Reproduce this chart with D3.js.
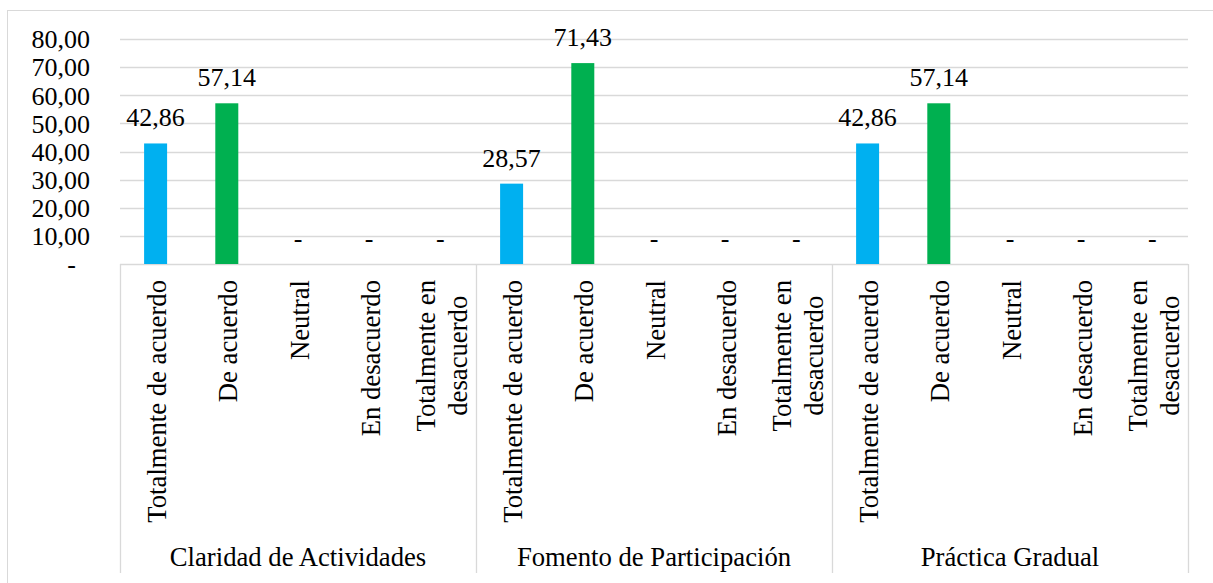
<!DOCTYPE html>
<html>
<head>
<meta charset="utf-8">
<script src="https://cdnjs.cloudflare.com/ajax/libs/d3/7.8.5/d3.min.js"></script>
<style>
  body { margin: 0; background: #fff; }
  svg text { font-family: "Liberation Serif", "Times New Roman", serif; fill: #000; }
</style>
</head>
<body>
<svg id="chart" width="1213" height="583"></svg>
<script>
// chart data
var groups = ["Claridad de Actividades", "Fomento de Participación", "Práctica Gradual"];
var responses = ["Totalmente de acuerdo", "De acuerdo", "Neutral", "En desacuerdo", "Totalmente en desacuerdo"];
var claridad = [42.86, 57.14, 0, 0, 0];
var fomento = [28.57, 71.43, 0, 0, 0];
var practica = [42.86, 57.14, 0, 0, 0];
var yTicks = [0, 10, 20, 30, 40, 50, 60, 70, 80];

var seriesByGroup = [claridad, fomento, practica];
var barColor = d3.scaleOrdinal().domain(responses)
  .range(["#00B0F0", "#00B050", "#A5A5A5", "#FFC000", "#4472C4"]);

var svg = d3.select("#chart");
var plotLeft = 120, plotRight = 1188, plotTop = 39, plotBottom = 264;
var fontSize = 26, catFontSize = 26.7;

// chart border
svg.append("rect")
  .attr("x", 7.5).attr("y", 10.5)
  .attr("width", 1220).attr("height", 600)
  .attr("fill", "none")
  .attr("stroke", "#d9d9d9");

var y = d3.scaleLinear().domain([0, 80]).range([plotBottom, plotTop]);

var xGroup = d3.scaleBand().domain(groups).range([plotLeft, plotRight]);
var xResp = d3.scaleBand().domain(responses).range([0, xGroup.bandwidth()]);
var barW = xResp.bandwidth() * 0.323;

function fmt(v) {
  return v === 0 ? "-" : d3.format(".2f")(v).replace(".", ",");
}

// gridlines
svg.append("g").selectAll("line").data(yTicks.filter(function(d) { return d > 0; }))
  .enter().append("line")
  .attr("x1", plotLeft).attr("x2", plotRight)
  .attr("y1", function(d) { return Math.round(y(d)) + 0.5; })
  .attr("y2", function(d) { return Math.round(y(d)) + 0.5; })
  .attr("stroke", "#d9d9d9")
  .attr("stroke-width", 1.3);

// y axis labels
var yAxis = d3.axisLeft(y).tickValues(yTicks).tickSize(0).tickPadding(30).tickFormat(fmt);
var yg = svg.append("g").attr("transform", "translate(" + plotLeft + ",0)").call(yAxis);
yg.select(".domain").remove();
yg.attr("font-family", null);
yg.selectAll("text")
  .style("font-family", "Liberation Serif")
  .style("font-size", fontSize + "px")
  .attr("dy", "0.34em")
  .attr("x", function(d) { return d === 0 ? -44 : -30; });

// x axis line and group separators
svg.append("line")
  .attr("x1", plotLeft).attr("x2", plotRight)
  .attr("y1", plotBottom + 0.5).attr("y2", plotBottom + 0.5)
  .attr("stroke", "#d9d9d9").attr("stroke-width", 1.3);

var seps = groups.map(function(g) { return xGroup(g); }).concat([plotRight]);
svg.append("g").selectAll("line").data(seps)
  .enter().append("line")
  .attr("x1", function(d) { return Math.round(d) + 0.5; })
  .attr("x2", function(d) { return Math.round(d) + 0.5; })
  .attr("y1", plotBottom).attr("y2", 573)
  .attr("stroke", "#d9d9d9").attr("stroke-width", 1.3);

// bars, value labels, category labels
var group = svg.selectAll(".grp").data(groups)
  .enter().append("g")
  .attr("class", "grp")
  .attr("transform", function(g) { return "translate(" + xGroup(g) + ",0)"; });

group.each(function(g, gi) {
  var gsel = d3.select(this);
  var rows = responses.map(function(r, i) { return { resp: r, value: seriesByGroup[gi][i] }; });

  gsel.selectAll("rect").data(rows.filter(function(d) { return d.value > 0; }))
    .enter().append("rect")
    .attr("x", function(d) { return xResp(d.resp) + (xResp.bandwidth() - barW) / 2; })
    .attr("y", function(d) { return y(d.value); })
    .attr("width", barW)
    .attr("height", function(d) { return y(0) - y(d.value); })
    .attr("fill", function(d) { return barColor(d.resp); });

  gsel.selectAll(".val").data(rows)
    .enter().append("text")
    .attr("class", "val")
    .attr("x", function(d) { return xResp(d.resp) + xResp.bandwidth() / 2; })
    .attr("y", function(d) { return y(d.value) - 17; })
    .attr("text-anchor", "middle")
    .style("font-size", fontSize + "px")
    .text(function(d) { return fmt(d.value); });

  // rotated category labels, wrapped when too long
  gsel.selectAll(".cat").data(responses)
    .enter().append("text")
    .attr("class", "cat")
    .style("font-size", catFontSize + "px")
    .each(function(r) {
      var t = d3.select(this);
      var cx = xResp(r) + xResp.bandwidth() / 2;
      t.text(r);
      var lines = [r];
      if (this.getComputedTextLength() > 255) {
        var words = r.split(" ");
        lines = [words.slice(0, 2).join(" "), words.slice(2).join(" ")];
      }
      t.text(null);
      var lens = lines.map(function(l) {
        t.text(l);
        var w = t.node().getComputedTextLength();
        t.text(null);
        return w;
      });
      var maxLen = d3.max(lens);
      var lineH = 32;
      lines.forEach(function(l, li) {
        var off = (li - (lines.length - 1) / 2) * lineH + 10.5;
        var endY = 280 + (maxLen - lens[li]) / 2;
        t.append("tspan")
          .attr("x", -endY)
          .attr("y", cx + off)
          .attr("text-anchor", "end")
          .text(l);
      });
      t.attr("transform", "rotate(-90)");
    });

  gsel.append("text")
    .attr("x", xGroup.bandwidth() / 2)
    .attr("y", 566)
    .attr("text-anchor", "middle")
    .style("font-size", catFontSize + "px")
    .text(g);
});
</script>
</body>
</html>
